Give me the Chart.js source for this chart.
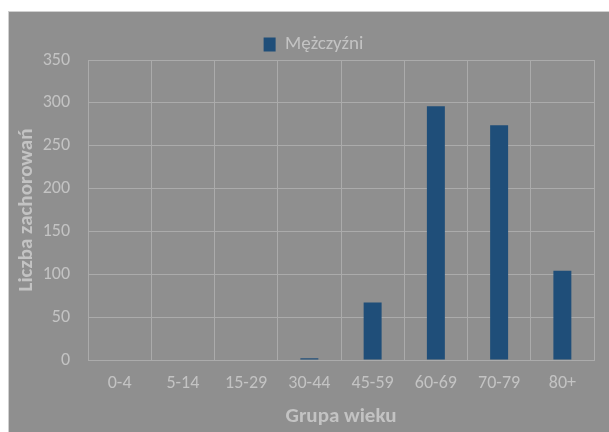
<!DOCTYPE html>
<html>
<head>
<meta charset="utf-8">
<script src="https://cdn.jsdelivr.net/npm/chart.js@4"></script>
<style>
  html, body { margin: 0; padding: 0; background: #ffffff; }
  #wrap { position: absolute; left: 8px; top: 11px; width: 600px; height: 420px;
          border-left: 1px solid #d0d0d0; border-top: 1px solid #d0d0d0; background: #8f8f8f; }
  canvas { display: block; }
</style>
</head>
<body>
<div id="wrap"><canvas id="c" width="600" height="420"></canvas></div>
<script>
const categories = ['0-4', '5-14', '15-29', '30-44', '45-59', '60-69', '70-79', '80+'];
const seriesName = 'Mężczyźni';
const maleValues = [0, 0, 0, 2, 67, 296, 274, 104];
const yTitle = 'Liczba zachorowań';
const xTitle = 'Grupa wieku';

const FONT = 'Carlito, Lato, "Open Sans", sans-serif';
const TEXT = '#c3c3c3';
const GRID = '#ababab';

const legendShift = {
  id: 'legendShift',
  afterLayout(chart) {
    const l = chart.legend;
    if (l) { l.top += 4; l.bottom += 4; l.left += 12; l.right += 12; }
  }
};

new Chart(document.getElementById('c'), {
  type: 'bar',
  data: {
    labels: categories,
    datasets: [{
      label: seriesName,
      data: maleValues,
      backgroundColor: '#1f4e79',
      borderWidth: 0,
      categoryPercentage: 1.0,
      barPercentage: 0.284
    }]
  },
  options: {
    responsive: false,
    animation: false,
    layout: { padding: { left: 0, right: 15, top: 0, bottom: 0 } },
    plugins: {
      legend: {
        display: true,
        position: 'top',
        labels: {
          color: TEXT,
          font: { family: FONT, size: 19 },
          boxWidth: 12,
          boxHeight: 14,
          padding: 19
        }
      },
      tooltip: { enabled: false }
    },
    scales: {
      x: {
        grid: { color: GRID, lineWidth: 1, drawTicks: false, offset: true },
        border: { color: GRID, width: 1 },
        ticks: { color: TEXT, font: { family: FONT, size: 18 }, padding: 13, maxRotation: 0 },
        title: { display: true, text: xTitle, color: TEXT,
                 font: { family: FONT, size: 21, weight: 'bold' }, padding: { top: 0, bottom: 3 } },
        afterFit: (s) => { s.height = 72; }
      },
      y: {
        min: 0, max: 350,
        grid: { color: GRID, lineWidth: 1, drawTicks: false },
        border: { color: GRID, width: 1 },
        ticks: { stepSize: 50, color: TEXT, font: { family: FONT, size: 18 }, padding: 18 },
        title: { display: true, text: yTitle, color: TEXT,
                 font: { family: FONT, size: 21, weight: 'bold' }, padding: { top: 5, bottom: 0 } },
        afterFit: (s) => { s.width = 79; }
      }
    }
  },
  plugins: [legendShift]
});
</script>
</body>
</html>
